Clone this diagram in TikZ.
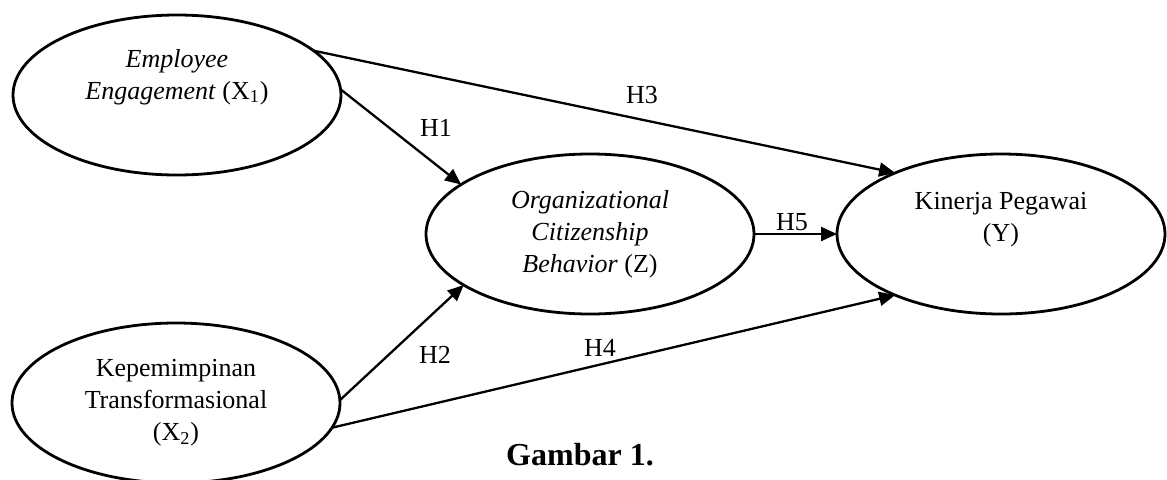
\documentclass[tikz,border=0pt]{standalone}
\usepackage{fontspec}
\setmainfont{Liberation Serif}
\usetikzlibrary{shapes.geometric,arrows.meta}
\definecolor{inkblack}{HTML}{000000}

\begin{document}
\begin{tikzpicture}[x=0.5pt,y=0.5pt,
    oval/.style={draw=inkblack,line width=1.4pt,ellipse,minimum width=164pt,minimum height=80pt,
      inner sep=0pt,outer sep=0pt,align=center,font=\fontsize{13}{16}\selectfont},
    hyp/.style={draw=inkblack,line width=1.15pt,-{Triangle[length=8pt,width=7pt]}},
    hlab/.style={font=\fontsize{13}{16}\selectfont,color=inkblack}]
  \useasboundingbox (0,0) rectangle (1167,479);
  % variables
  \node[oval] (ee) at (177,384) {\textit{Employee}\\\textit{Engagement} (X\textsubscript{1})\\\strut};
  \node[oval] (kt) at (176,76) {Kepemimpinan\\Transformasional\\(X\textsubscript{2})};
  \node[oval] (ocb) at (590,245) {\textit{Organizational}\\\textit{Citizenship}\\\textit{Behavior} (Z)};
  \node[oval] (kp) at (1001,245) {Kinerja Pegawai\\(Y)\\[-4pt]\strut};
  % hypotheses
  \draw[hyp] (ee.2) -- (ocb.159);
  \draw[hyp] (ee.18) -- (kp.150);
  \draw[hyp] (kt.1) -- (ocb.202);
  \draw[hyp] (kt.-9) -- (kp.210);
  \draw[hyp] (ocb.0) -- (kp.180);
  \node[hlab] (h1) at (436,351) {H1};
  \node[hlab] (h2) at (435,124) {H2};
  \node[hlab] (h3) at (642,384) {H3};
  \node[hlab] (h4) at (600,131) {H4};
  \node[hlab] (h5) at (792,257) {H5};
  % caption
  \node[font=\fontsize{16}{19}\selectfont\bfseries] (cap) at (580,24) {Gambar 1.};
\end{tikzpicture}
\end{document}
